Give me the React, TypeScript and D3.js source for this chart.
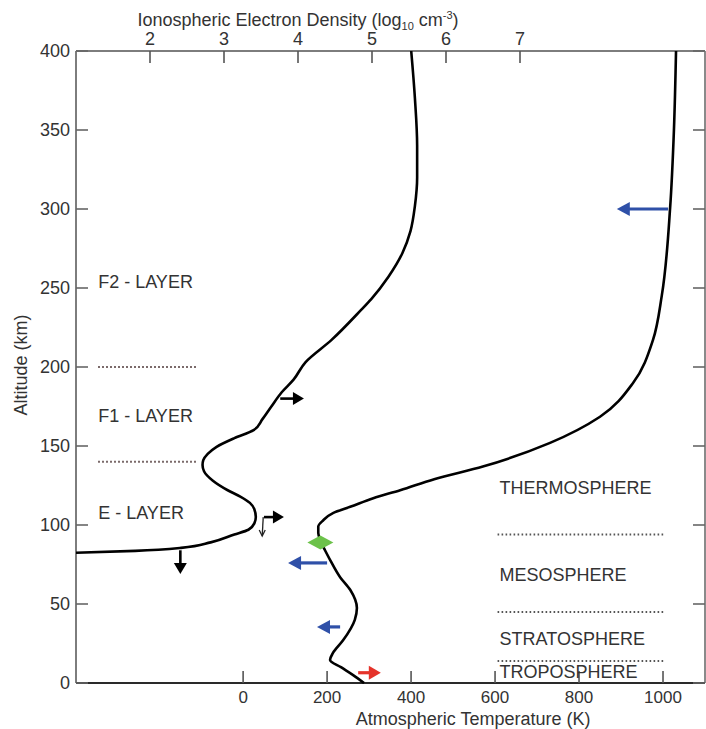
import React from "react";
import * as d3 from "d3";

// ---- data ----
const altitudeTicks = [0, 50, 100, 150, 200, 250, 300, 350, 400];
const densityTicks = [2, 3, 4, 5, 6, 7];
const temperatureTicks = [0, 200, 400, 600, 800, 1000];

// [altitude km, log10 electron density]
const densityProfile: [number, number][] = [
  [82.4, 1.0], [83.6, 1.8], [85.5, 2.42], [89, 2.82], [94, 3.14], [97, 3.33],
  [101, 3.41], [105, 3.43], [110, 3.41], [114, 3.35], [118, 3.22], [122, 3.05],
  [128, 2.85], [134, 2.73], [138, 2.71], [141, 2.72], [145, 2.78], [149.5, 2.9],
  [155, 3.14], [160, 3.4], [167, 3.52], [175, 3.64], [184, 3.78], [192, 3.94],
  [203, 4.1], [217, 4.45], [236, 4.85], [243, 4.99], [257, 5.22], [272, 5.41],
  [286, 5.52], [302, 5.58], [320, 5.61], [340, 5.61], [370, 5.58], [400, 5.53],
];

// [altitude km, temperature K]
const temperatureProfile: [number, number][] = [
  [0, 288], [5, 262], [10, 233], [14.6, 207], [19, 214], [27, 238], [40, 266],
  [47.5, 271], [59, 255], [67, 231], [78, 207], [84, 195], [89, 186], [95, 179],
  [99, 179], [103, 191], [107.7, 215], [111.5, 255], [117, 310], [122, 374],
  [129, 455], [137, 571], [152, 731], [168.5, 850], [190, 929], [217, 976],
  [245, 997], [301, 1017], [350, 1026], [400, 1031],
];

const densityLayerLabels = [
  { text: "F2 - LAYER", alt: 254 },
  { text: "F1 - LAYER", alt: 169 },
  { text: "E - LAYER", alt: 108 },
];
const densityLayerBounds = [200, 140];
const densityLabelStart = 1.3;
const densityBoundEnd = 2.62;

const atmosphereLabels = [
  { text: "THERMOSPHERE", alt: 123.5 },
  { text: "MESOSPHERE", alt: 68.5 },
  { text: "STRATOSPHERE", alt: 28 },
  { text: "TROPOSPHERE", alt: 7 },
];
const atmosphereBounds = [94, 45, 14];
const atmosphereBoundRange = [606, 1005];

// arrows: temperature units
const blueArrows = [
  { alt: 300, from: 1012, to: 890 },
  { alt: 76, from: 200, to: 107 },
  { alt: 35.5, from: 231, to: 176 },
];
const redArrows = [{ alt: 6.5, from: 274, to: 328 }];
// arrows: density units
const blackArrows = [
  { alt: 180, from: 3.76, to: 4.08 },
  { alt: 105, from: 3.54, to: 3.81 },
];
const blackDownArrow = { logN: 2.41, from: 84, to: 69 };
const eLayerStub = { logN: 3.53, from: 105, to: 93 };
const mesopauseMarker = { alt: 89, temp: 184 };

// ---- layout ----
const W = 706;
const H = 729;
const L = 76, R = 705, T = 51, B = 683;

const y = d3.scaleLinear().domain([0, 400]).range([B, T]);
const xd = d3.scaleLinear().domain([1, 9.5]).range([L, R]);
const xt = d3.scaleLinear().domain([-398, 1100]).range([L, R]);

const FONT = "'Liberation Sans', Arial, Helvetica, sans-serif";
const TXT = "#333";

function Arrow({ x1, x2, yy, color, sw, hl, hw }: any) {
  const dir = Math.sign(x2 - x1);
  const base = x2 - dir * hl;
  return (
    <g>
      <line x1={x1} y1={yy} x2={base + dir * 1} y2={yy} stroke={color} strokeWidth={sw} />
      <polygon points={`${x2},${yy} ${base},${yy - hw} ${base},${yy + hw}`} fill={color} />
    </g>
  );
}

export default function App() {
  const densLine = d3
    .line<[number, number]>()
    .x((d) => xd(d[1]))
    .y((d) => y(d[0]))
    .curve(d3.curveMonotoneY)(densityProfile) as string;
  const tempLine = d3
    .line<[number, number]>()
    .x((d) => xt(d[1]))
    .y((d) => y(d[0]))
    .curve(d3.curveMonotoneY)(temperatureProfile) as string;

  const dm = { x: xt(mesopauseMarker.temp), y: y(mesopauseMarker.alt) };
  const da = blackDownArrow;
  const stub = eLayerStub;

  return (
    <svg
      width={W}
      height={H}
      style={{ position: "absolute", left: 0, top: 0, background: "#fff" }}
      fontFamily={FONT}
    >
      <rect x={0} y={0} width={W} height={H} fill="#fff" />

      {/* frame */}
      <line x1={L} y1={T} x2={R} y2={T} stroke="#7d7d7d" strokeWidth={2} />
      <line x1={L} y1={T} x2={L} y2={B} stroke="#7d7d7d" strokeWidth={2} />
      <line x1={R} y1={T} x2={R} y2={B} stroke="#8a8a8a" strokeWidth={2} />
      <line x1={L} y1={B} x2={R} y2={B} stroke="#2a2a2a" strokeWidth={2} />

      {/* left / right ticks */}
      {altitudeTicks.map((a) => (
        <g key={"a" + a}>
          <line x1={L} x2={L + 12} y1={y(a)} y2={y(a)} stroke="#666" strokeWidth={1.6} />
          <line x1={R - 12} x2={R} y1={y(a)} y2={y(a)} stroke="#666" strokeWidth={1.6} />
          <text x={L - 6} y={y(a)} dy="0.36em" textAnchor="end" fontSize={18} fill={TXT}>
            {a}
          </text>
        </g>
      ))}

      {/* top ticks */}
      {densityTicks.map((d) => (
        <g key={"d" + d}>
          <line x1={xd(d)} x2={xd(d)} y1={T} y2={T + 12} stroke="#555" strokeWidth={1.6} />
          <text x={xd(d)} y={T - 6} textAnchor="middle" fontSize={18} fill={TXT}>
            {d}
          </text>
        </g>
      ))}

      {/* bottom ticks */}
      {temperatureTicks.map((t) => (
        <g key={"t" + t}>
          <line x1={xt(t)} x2={xt(t)} y1={B - 12} y2={B} stroke="#555" strokeWidth={1.6} />
          <text x={xt(t)} y={B + 20} textAnchor="middle" fontSize={17} fill={TXT}>
            {t}
          </text>
        </g>
      ))}

      {/* axis titles */}
      <text x={298} y={26} textAnchor="middle" fontSize={18} fill={TXT}>
        Ionospheric Electron Density (log
        <tspan fontSize={11} dy={4}>10</tspan>
        <tspan dy={-4}> cm</tspan>
        <tspan fontSize={11} dy={-7}>-3</tspan>
        <tspan dy={7}>)</tspan>
      </text>
      <text x={(xt(200) + xt(800)) / 2 + 20} y={725} textAnchor="middle" fontSize={18} fill={TXT}>
        Atmospheric Temperature (K)
      </text>
      <text
        transform={`translate(27, ${y(200) - 2}) rotate(-90)`}
        textAnchor="middle"
        fontSize={18}
        fill={TXT}
      >
        Altitude (km)
      </text>

      {/* layer boundaries */}
      {densityLayerBounds.map((a) => (
        <line
          key={"db" + a}
          x1={xd(densityLabelStart)}
          x2={xd(densityBoundEnd)}
          y1={y(a)}
          y2={y(a)}
          stroke="#5b4646"
          strokeWidth={2}
          strokeDasharray="1.6 2.4"
        />
      ))}
      {atmosphereBounds.map((a) => (
        <line
          key={"ab" + a}
          x1={xt(atmosphereBoundRange[0])}
          x2={xt(atmosphereBoundRange[1])}
          y1={y(a)}
          y2={y(a)}
          stroke="#555"
          strokeWidth={2}
          strokeDasharray="1.6 2.4"
        />
      ))}

      {densityLayerLabels.map((l) => (
        <text key={l.text} x={xd(densityLabelStart)} y={y(l.alt)} dy="0.36em" fontSize={18} fill={TXT}>
          {l.text}
        </text>
      ))}
      {atmosphereLabels.map((l) => (
        <text key={l.text} x={xt(atmosphereBoundRange[0]) + 2} y={y(l.alt)} dy="0.36em" fontSize={18} fill={TXT}>
          {l.text}
        </text>
      ))}

      {/* curves */}
      <path d={densLine} fill="none" stroke="#000" strokeWidth={2.6} strokeLinejoin="round" />
      <path d={tempLine} fill="none" stroke="#000" strokeWidth={2.6} strokeLinejoin="round" />

      {/* arrows */}
      {blueArrows.map((a, i) => (
        <Arrow key={"b" + i} x1={xt(a.from)} x2={xt(a.to)} yy={y(a.alt)} color="#2f50a8" sw={3.2} hl={13} hw={7} />
      ))}
      {redArrows.map((a, i) => (
        <Arrow key={"r" + i} x1={xt(a.from)} x2={xt(a.to)} yy={y(a.alt)} color="#e5332a" sw={3.2} hl={12} hw={7} />
      ))}
      {blackArrows.map((a, i) => (
        <Arrow key={"k" + i} x1={xd(a.from)} x2={xd(a.to)} yy={y(a.alt)} color="#000" sw={2.6} hl={11} hw={6.5} />
      ))}
      <g>
        <line x1={xd(da.logN)} x2={xd(da.logN)} y1={y(da.from)} y2={y(da.to) - 10} stroke="#000" strokeWidth={2.6} />
        <polygon
          points={`${xd(da.logN)},${y(da.to)} ${xd(da.logN) - 6.5},${y(da.to) - 11} ${xd(da.logN) + 6.5},${y(da.to) - 11}`}
          fill="#000"
        />
      </g>
      <g stroke="#222" strokeWidth={1.3} fill="none">
        <line x1={xd(stub.logN)} x2={xd(stub.logN) - 1} y1={y(stub.from)} y2={y(stub.to)} />
        <polyline
          points={`${xd(stub.logN) - 4},${y(stub.to) - 6} ${xd(stub.logN) - 1},${y(stub.to)} ${xd(stub.logN) + 2},${y(stub.to) - 6}`}
        />
      </g>

      {/* mesopause marker */}
      <polygon
        points={`${dm.x - 13},${dm.y} ${dm.x},${dm.y - 7} ${dm.x + 13},${dm.y} ${dm.x},${dm.y + 7}`}
        fill="#6cc24a"
      />
    </svg>
  );
}
